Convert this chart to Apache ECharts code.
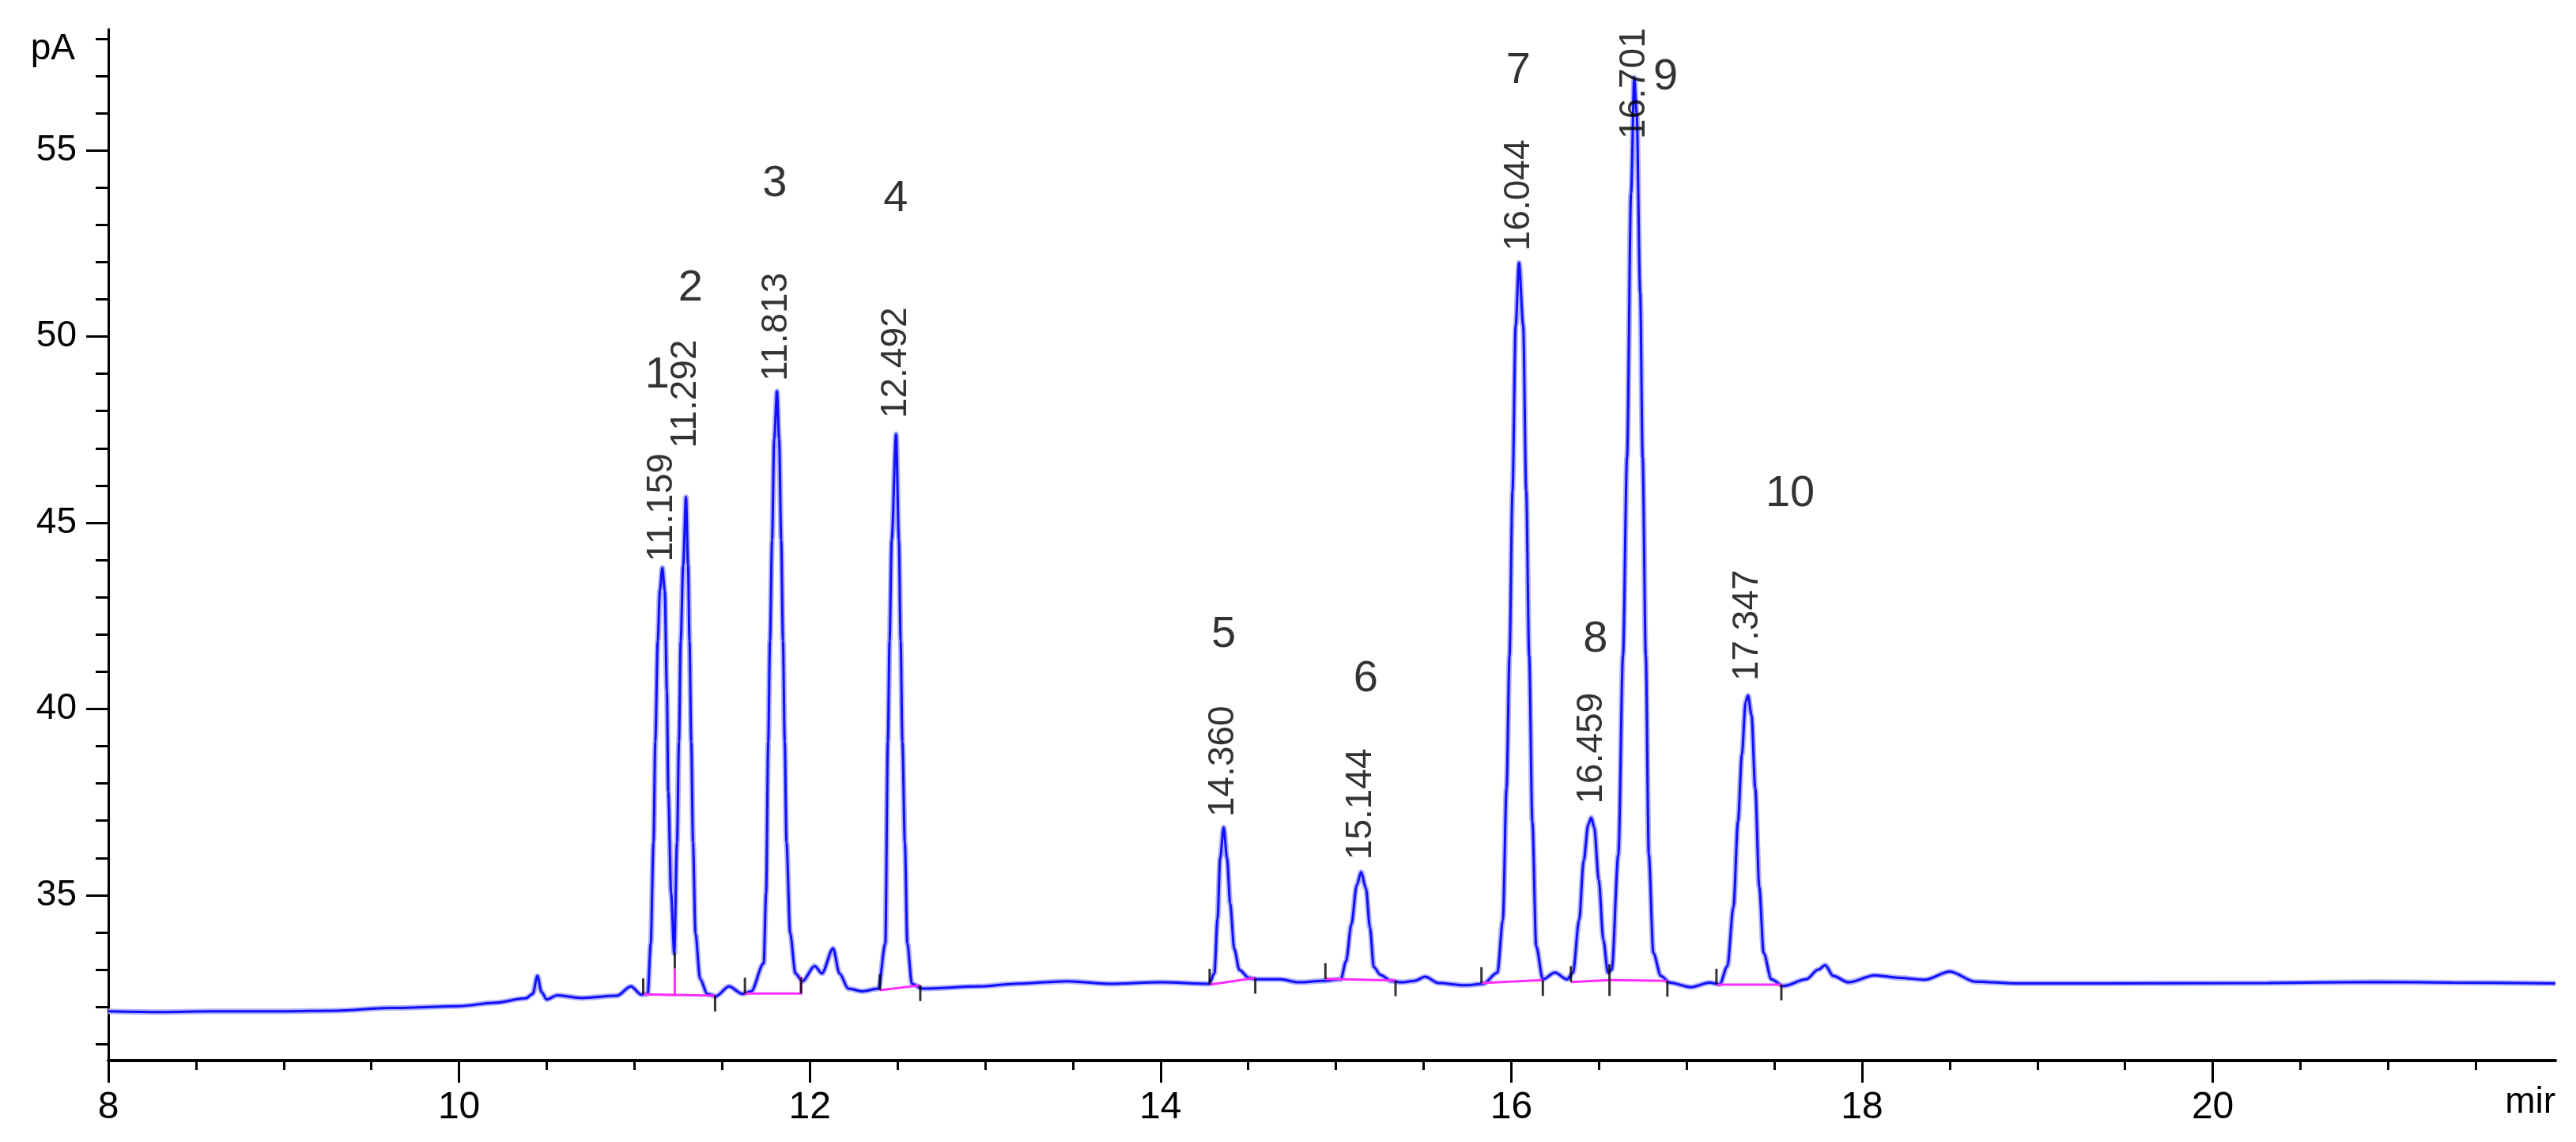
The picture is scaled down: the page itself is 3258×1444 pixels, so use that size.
<!DOCTYPE html>
<html>
<head>
<meta charset="utf-8">
<title>Chromatogram</title>
<script src="https://cdn.jsdelivr.net/npm/echarts@6/dist/echarts.min.js"></script>
<style>
    html, body { margin: 0; padding: 0; background: #fff; }
    #chart { width: 3258px; height: 1444px; }
</style>
</head>
<body>
<div id="chart"></div>
<script>
/* detector trace: time (min) / signal (pA) */
var times = [
    8.00, 8.30, 8.60, 9.00, 9.30, 9.60, 10.00, 10.20, 10.38, 10.42, 10.447, 10.47, 10.50, 10.56, 10.70, 10.90, 10.98, 11.04,
    11.076, 11.093, 11.109, 11.119, 11.133, 11.145, 11.159, 11.173, 11.185, 11.193, 11.209, 11.227,
    11.243, 11.254, 11.264, 11.278, 11.294, 11.306, 11.314, 11.324, 11.334, 11.348, 11.374, 11.415, 11.465, 11.539, 11.616, 11.666,
    11.737, 11.751, 11.763, 11.773, 11.785, 11.797, 11.813, 11.825, 11.837, 11.847, 11.857, 11.867, 11.888, 11.918, 11.958,
    12.028, 12.069, 12.133, 12.169, 12.220, 12.300, 12.391,
    12.431, 12.445, 12.455, 12.467, 12.492, 12.508, 12.518, 12.528, 12.542, 12.556, 12.582, 12.642,
    12.964, 13.166, 13.468, 13.705, 14.006, 14.277,
    14.307, 14.325, 14.340, 14.360, 14.379, 14.397, 14.420, 14.450, 14.503, 14.548, 14.683, 14.788, 14.923, 15.028,
    15.058, 15.088, 15.119, 15.144, 15.171, 15.194, 15.216, 15.254, 15.314, 15.374, 15.449, 15.509, 15.585, 15.735, 15.840,
    15.921, 15.952, 15.973, 15.990, 16.007, 16.025, 16.044, 16.068, 16.085, 16.102, 16.120, 16.142, 16.180, 16.249, 16.318,
    16.352, 16.387, 16.413, 16.439, 16.456, 16.473, 16.499, 16.525, 16.551, 16.573,
    16.611, 16.637, 16.660, 16.683, 16.701, 16.715, 16.735, 16.749, 16.767, 16.784, 16.810, 16.853, 16.905, 17.025, 17.129, 17.189,
    17.232, 17.267, 17.293, 17.315, 17.336, 17.350, 17.370, 17.391, 17.414, 17.439, 17.483, 17.552,
    17.681, 17.750, 17.790, 17.836, 17.923, 18.072, 18.215, 18.358, 18.501, 18.644, 18.882, 19.358, 20.310, 20.930, 21.360, 21.954
];
var signal = [
    31.88, 31.86, 31.88, 31.88, 31.90, 31.97, 32.02, 32.11, 32.23, 32.35, 32.83, 32.40, 32.20, 32.31, 32.24, 32.30, 32.55, 32.33,
    32.35, 33.70, 36.42, 39.12, 41.83, 43.18, 43.79, 43.18, 40.48, 37.77, 35.06, 33.44,
    36.42, 39.12, 41.83, 43.86, 45.69, 43.86, 41.83, 39.12, 36.42, 33.98, 32.76, 32.35, 32.29, 32.55, 32.35, 32.42,
    33.17, 35.06, 39.12, 41.83, 44.54, 47.25, 48.53, 47.25, 44.54, 41.83, 39.12, 36.42, 33.98, 32.90, 32.69,
    33.10, 32.90, 33.57, 32.90, 32.49, 32.42, 32.49,
    33.71, 39.12, 41.83, 44.54, 47.38, 44.54, 41.83, 39.12, 36.42, 33.71, 32.62, 32.49,
    32.55, 32.62, 32.69, 32.62, 32.66, 32.62,
    32.90, 34.37, 36.00, 36.82, 36.00, 34.78, 33.56, 32.99, 32.78, 32.74, 32.74, 32.66, 32.70, 32.74,
    33.23, 34.21, 35.27, 35.62, 35.19, 34.13, 33.07, 32.86, 32.70, 32.66, 32.70, 32.81, 32.64, 32.58, 32.62,
    32.92, 34.33, 37.88, 41.43, 45.86, 50.29, 51.98, 50.29, 45.86, 41.43, 36.99, 33.63, 32.74, 32.92, 32.74,
    32.92, 34.33, 35.93, 36.90, 37.08, 36.82, 35.40, 33.80, 32.92, 33.00,
    36.11, 41.43, 46.75, 53.84, 56.95, 55.97, 51.18, 46.75, 41.43, 36.11, 33.45, 32.83, 32.65, 32.53, 32.65, 32.61,
    33.09, 34.69, 36.99, 38.77, 40.18, 40.36, 39.83, 37.88, 35.22, 33.45, 32.74, 32.56,
    32.74, 33.00, 33.12, 32.83, 32.66, 32.85, 32.78, 32.73, 32.95, 32.68, 32.63, 32.63, 32.64, 32.67, 32.65, 32.63
];

/* peaks */
var peakNames = ['1', '2', '3', '4', '5', '6', '7', '8', '9', '10'];
var peakNameX = [11.13, 11.32, 11.80, 12.49, 14.36, 15.17, 16.04, 16.48, 16.88, 17.59];
var peakNameY = [48.95, 51.3, 54.1, 53.7, 42.0, 40.8, 57.14, 41.87, 56.97, 45.77];
var retentionTimes = [11.159, 11.292, 11.813, 12.492, 14.360, 15.144, 16.044, 16.459, 16.701, 17.347];
var retentionLabelY = [43.95, 47.0, 48.8, 47.8, 37.1, 35.95, 52.3, 37.45, 55.3, 40.75];

/* integration baselines and peak start / end marks */
var baselineSegments = [
    [[11.05, 32.34], [11.23, 32.32], [11.23, 33.03]],
    [[11.23, 32.32], [11.46, 32.30]],
    [[11.63, 32.36], [11.95, 32.36], [11.95, 32.81]],
    [[12.40, 32.45], [12.63, 32.58]],
    [[14.28, 32.60], [14.54, 32.78]],
    [[14.94, 32.75], [15.34, 32.71]],
    [[15.83, 32.64], [16.18, 32.72]],
    [[16.34, 32.67], [16.56, 32.72]],
    [[16.56, 32.72], [16.89, 32.70]],
    [[17.17, 32.60], [17.54, 32.60]]
];
var startMarks = [[11.05, 32.34], [11.23, 33.03], [11.63, 32.36], [11.95, 32.36], [12.40, 32.45], [14.28, 32.60],
    [14.94, 32.75], [15.83, 32.64], [16.34, 32.67], [16.56, 32.72], [17.17, 32.60]];
var endMarks = [[11.46, 32.30], [12.63, 32.58], [14.54, 32.78], [15.34, 32.71], [16.18, 32.72], [16.56, 32.72],
    [16.89, 32.70], [17.54, 32.60]];

/* axes */
var xMajorTicks = [8, 10, 12, 14, 16, 18, 20];
var xMinorTicks = [8.5, 9, 9.5, 10.5, 11, 11.5, 12.5, 13, 13.5, 14.5, 15, 15.5, 16.5, 17, 17.5, 18.5, 19, 19.5, 20.5, 21, 21.5];
var yMajorTicks = [35, 40, 45, 50, 55];
var yMinorTicks = [31, 32, 33, 34, 36, 37, 38, 39, 41, 42, 43, 44, 46, 47, 48, 49, 51, 52, 53, 54, 56, 57, 58];

var chromChart = function () {
    var font = "'Liberation Sans', Arial, sans-serif";
    var trace = times.map(function (t, i) { return [t, signal[i]]; });
    var names = peakNames.map(function (n, i) { return [peakNameX[i], peakNameY[i], n]; });
    var rts = retentionTimes.map(function (t, i) { return [t, retentionLabelY[i], t.toFixed(3)]; });

    var box = document.getElementById('chart');
    var myChart = echarts.init(box, null, { renderer: 'canvas' });

    var xBase = { type: 'value', min: 8, max: 21.954, position: 'bottom', splitLine: { show: false } };
    var yBase = { type: 'value', min: 30.56, max: 58.25, position: 'left', splitLine: { show: false } };

    var options = {
        animation: false,
        backgroundColor: '#fff',
        grid: { left: 137, right: 26, top: 37, bottom: 103, containLabel: false, outerBoundsMode: 'none' },
        xAxis: [
            echarts.util.merge({
                axisLine: { show: true, lineStyle: { color: '#000', width: 4 } },
                axisTick: { show: true, customValues: xMajorTicks, length: 28, lineStyle: { color: '#000', width: 3 } },
                axisLabel: { show: true, customValues: xMajorTicks, margin: 36, fontSize: 48, fontFamily: font, color: '#000' }
            }, xBase),
            echarts.util.merge({
                axisLine: { show: false },
                axisTick: { show: true, customValues: xMinorTicks, length: 12, lineStyle: { color: '#000', width: 3 } },
                axisLabel: { show: false }
            }, xBase)
        ],
        yAxis: [
            echarts.util.merge({
                axisLine: { show: true, lineStyle: { color: '#000', width: 3 } },
                axisTick: { show: true, customValues: yMajorTicks, length: 28, lineStyle: { color: '#000', width: 3 } },
                axisLabel: { show: true, customValues: yMajorTicks, margin: 40, fontSize: 46, fontFamily: font, color: '#000' }
            }, yBase),
            echarts.util.merge({
                axisLine: { show: false },
                axisTick: { show: true, customValues: yMinorTicks, length: 16, lineStyle: { color: '#000', width: 3 } },
                axisLabel: { show: false }
            }, yBase)
        ],
        graphic: [
            { type: 'text', x: 95, y: 62, style: { text: 'pA', font: '46px ' + font, fill: '#000', align: 'right', verticalAlign: 'middle' } },
            { type: 'text', x: 3232, y: 1394, style: { text: 'mir', font: '46px ' + font, fill: '#000', align: 'right', verticalAlign: 'middle' } }
        ],
        series: [
            {
                name: 'halo', type: 'line', data: trace, showSymbol: false, silent: true,
                smooth: 0.3, smoothMonotone: 'x', z: 2,
                lineStyle: { color: '#b0b0ff', width: 7 }
            },
            {
                name: 'signal', type: 'line', data: trace, showSymbol: false, silent: true,
                smooth: 0.3, smoothMonotone: 'x', z: 3,
                lineStyle: { color: '#1010ff', width: 3 }
            },
            {
                name: 'baseline', type: 'lines', coordinateSystem: 'cartesian2d', polyline: true, silent: true, z: 4,
                data: baselineSegments.map(function (s) { return { coords: s }; }),
                lineStyle: { color: '#ff2cff', width: 3, opacity: 1 }
            },
            {
                name: 'start', type: 'scatter', data: startMarks, silent: true, z: 5,
                symbol: 'rect', symbolSize: [3, 20], symbolOffset: [0, '-50%'],
                itemStyle: { color: '#000' }
            },
            {
                name: 'end', type: 'scatter', data: endMarks, silent: true, z: 5,
                symbol: 'rect', symbolSize: [3, 20], symbolOffset: [0, '50%'],
                itemStyle: { color: '#000' }
            },
            {
                name: 'peaks', type: 'scatter', data: names, silent: true, z: 6,
                symbolSize: 1, itemStyle: { color: 'rgba(0,0,0,0)' },
                label: {
                    show: true, position: 'inside', color: '#000', fontSize: 56, fontFamily: font,
                    formatter: function (p) { return p.data[2]; }
                }
            },
            {
                name: 'rt', type: 'scatter', data: rts, silent: true, z: 6,
                symbolSize: 1, itemStyle: { color: 'rgba(0,0,0,0)' },
                label: {
                    show: true, position: 'inside', rotate: 90, align: 'left', verticalAlign: 'middle',
                    color: '#000', fontSize: 46, fontFamily: font,
                    formatter: function (p) { return p.data[2]; }
                }
            }
        ]
    };
    myChart.setOption(options);
};

chromChart();
</script>
</body>
</html>
